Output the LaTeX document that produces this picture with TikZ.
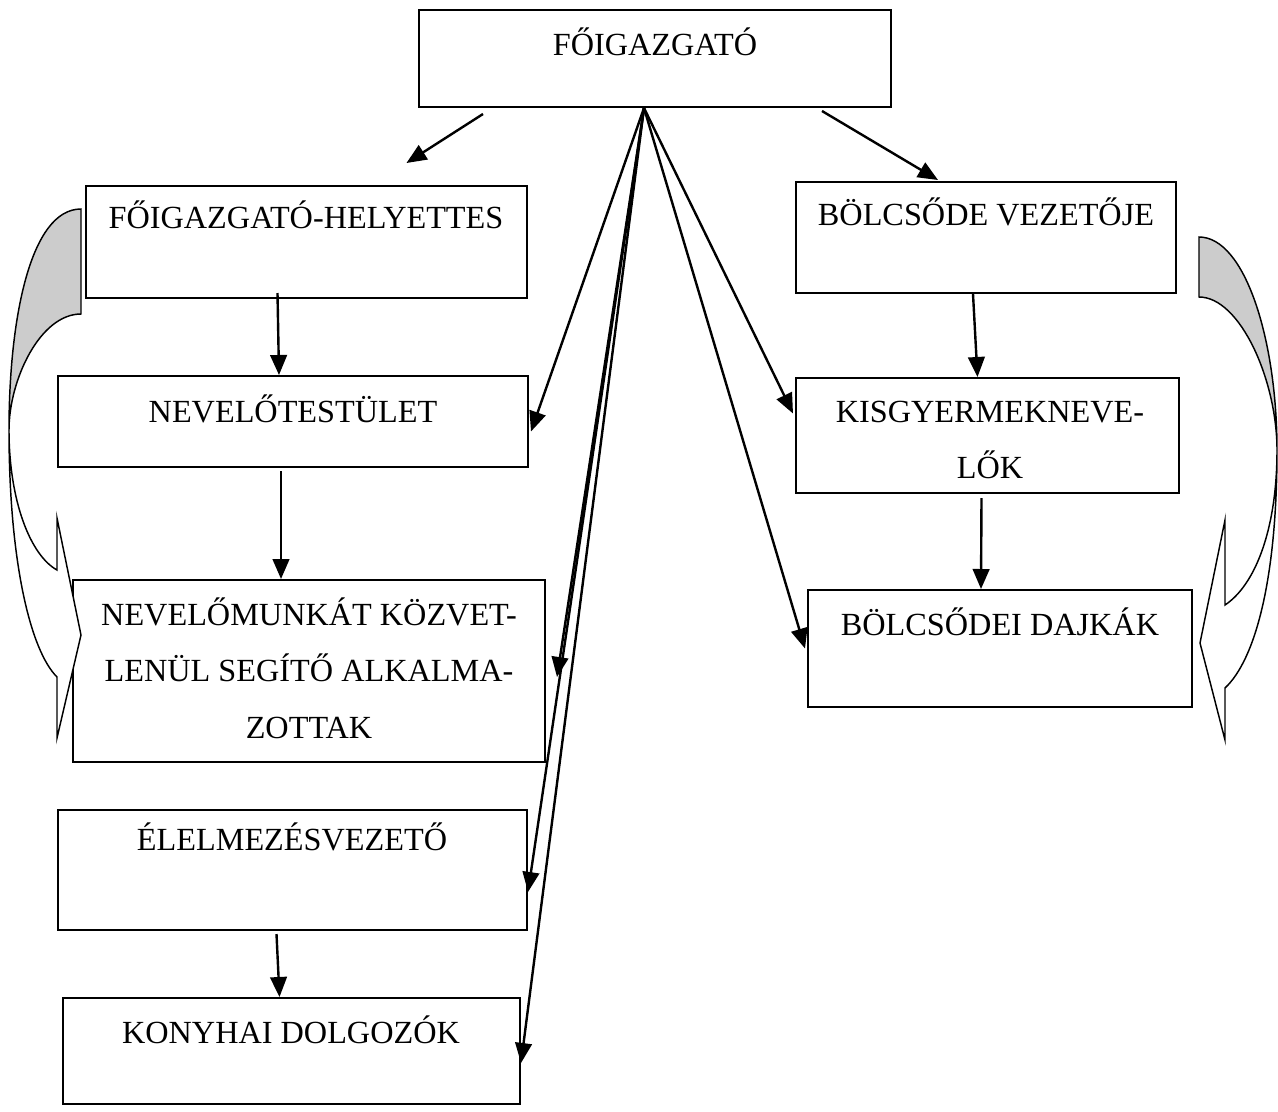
\documentclass[tikz,border=0pt]{standalone}
\usepackage{fontspec}
\setmainfont{Liberation Serif}
\usetikzlibrary{arrows.meta,calc,fit}

\tikzset{every picture/.style={line width=0.75pt}}

\begin{document}
\begin{tikzpicture}[
                x=0.75pt,
                y=0.75pt,
                yscale=-1,
                xscale=1,
                every node/.style={text=black},
                box/.style={draw=black, line width=1.5pt, inner sep=0pt},
                lbl/.style={font=\fontsize{24.2}{42.5}\selectfont, align=center, inner sep=0pt},
                arr/.style={draw=black, line width=1.8pt, -{Triangle[length=15pt,width=12.5pt]}},
                curvedarrow/.style={draw=black, line width=1.1pt, line join=miter}
            ]
                \useasboundingbox (0,0) rectangle (1278,1111);

                \node [box, fit={(419,10) (891,107)}] (top) {};
                \node [box, fit={(86,186) (527,298)}] (helyettes) {};
                \node [box, fit={(58,376) (528,467)}] (nevelo) {};
                \node [box, fit={(73,580) (545,762)}] (munka) {};
                \node [box, fit={(58,810) (527,930)}] (elelm) {};
                \node [box, fit={(63,998) (520,1104)}] (konyha) {};
                \node [box, fit={(796,182) (1176,293)}] (bolcs) {};
                \node [box, fit={(796,378) (1179,493)}] (kisgy) {};
                \node [box, fit={(808,590) (1192,707)}] (dajka) {};

                \node [lbl, anchor=base] (topT) at (655,55) {FŐIGAZGATÓ};
                \node [lbl, anchor=base] (helyettesT) at (306,228) {FŐIGAZGATÓ-HELYETTES};
                \node [lbl, anchor=base] (neveloT) at (293,422) {NEVELŐTESTÜLET};
                \node [lbl] (munkaT) at (309,668) {NEVELŐMUNKÁT KÖZVET-\\LENÜL SEGÍTŐ ALKALMA-\\ZOTTAK};
                \node [lbl, anchor=base] (elelmT) at (292,850) {ÉLELMEZÉSVEZETŐ};
                \node [lbl, anchor=base] (konyhaT) at (291,1043) {KONYHAI DOLGOZÓK};
                \node [lbl, anchor=base] (bolcsT) at (986,225) {BÖLCSŐDE VEZETŐJE};
                \node [lbl] (kisgyT) at (990,440) {KISGYERMEKNEVE-\\LŐK};
                \node [lbl, anchor=base] (dajkaT) at (1000,635) {BÖLCSŐDEI DAJKÁK};

                \coordinate (apex) at (644,108);

                \draw [arr] ($(top.south)+(-172,6)$) -- ($(helyettes.north)+(100,-22)$);
                \draw [arr] ($(top.south)+(167,3)$) -- ($(bolcs.north)+(-48,-1)$);
                \draw [arr] ($(helyettes.south)+(-29,-6)$) -- ($(nevelo.north)+(-14,0)$);
                \draw [arr] ($(nevelo.south)+(-12,3)$) -- ($(munka.north)+(-28,0)$);
                \draw [arr] ($(elelm.south)+(-16,3)$) -- ($(konyha.north)+(-12,0)$);
                \draw [arr] ($(bolcs.south)+(-13,0)$) -- ($(kisgy.north)+(-10,0)$);
                \draw [arr] ($(kisgy.south)+(-6,4)$) -- ($(dajka.north)+(-19,0)$);

                \draw [arr] (apex) -- ($(nevelo.east)+(2,10)$);
                \draw [arr] (apex) -- ($(munka.east)+(11,6)$);
                \draw [arr] (apex) -- ($(elelm.east)+(0,22)$);
                \draw [arr] (apex) -- ($(konyha.east)+(0,12)$);
                \draw [arr] (apex) -- ($(kisgy.west)+(-2,-22)$);
                \draw [arr] (apex) -- ($(dajka.west)+(-2,0)$);

                \draw [curvedarrow, fill=gray!40] (81,209) .. controls (30,209) and (9,320) .. (9,430) .. controls (9,380) and (40,314) .. (81,314) -- cycle ;
                \draw [curvedarrow, fill=white] (9,430) .. controls (9,560) and (30,650) .. (57,677) -- (57,738) -- (81,635) -- (57,518) -- (57,570) .. controls (30,555) and (9,500) .. (9,430) -- cycle ;

                \draw [curvedarrow, fill=gray!40] (1199,237) .. controls (1245,237) and (1277,340) .. (1277,450) .. controls (1277,380) and (1240,297) .. (1199,297) -- cycle ;
                \draw [curvedarrow, fill=white] (1277,450) .. controls (1277,580) and (1255,660) .. (1225,688) -- (1225,740) -- (1200,643) -- (1225,520) -- (1225,605) .. controls (1255,585) and (1277,530) .. (1277,450) -- cycle ;
            \end{tikzpicture}
\end{document}
